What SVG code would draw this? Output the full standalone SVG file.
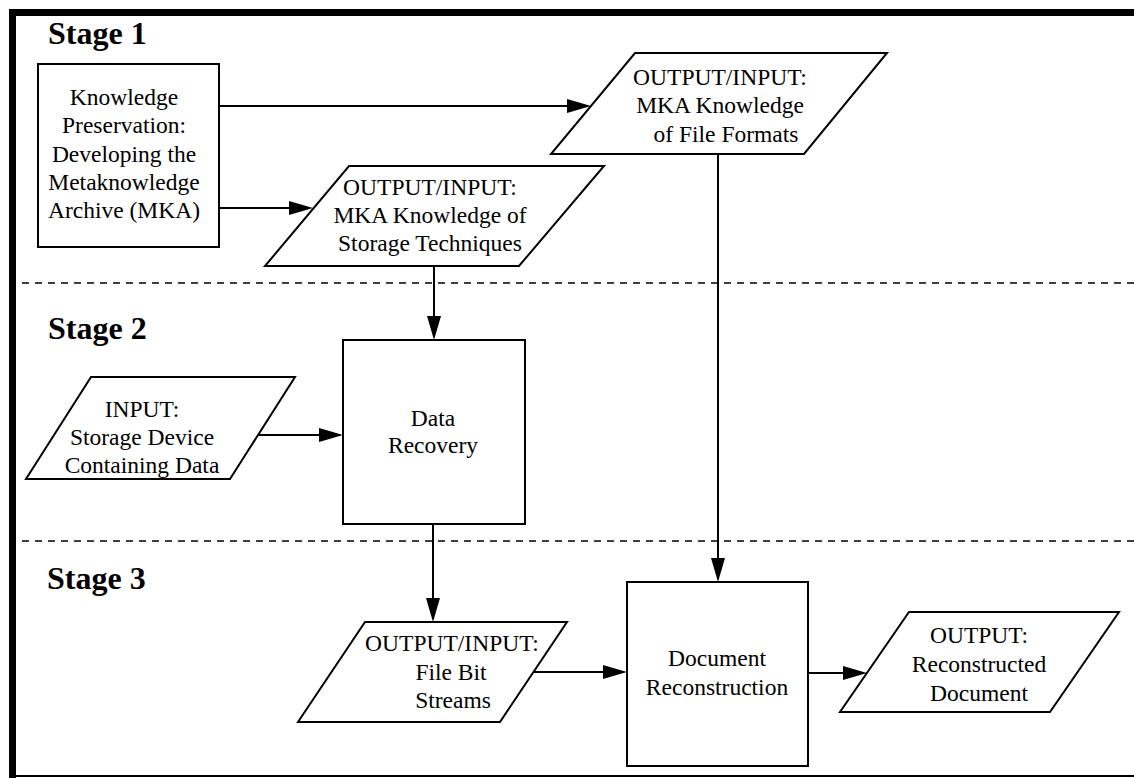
<svg xmlns="http://www.w3.org/2000/svg" width="1134" height="778" viewBox="0 0 1134 778">
  <style>
    .frame { fill: #000; }
    .rule { stroke: #000; stroke-width: 1.6; stroke-dasharray: 7 6; fill: none; }
    .box { fill: #fff; stroke: #000; stroke-width: 2; }
    .lbl { font-family: "Liberation Serif", "Times New Roman", serif; font-size: 23.5px; fill: #000; text-anchor: middle; }
    .stage { font-family: "Liberation Serif", "Times New Roman", serif; font-size: 32px; font-weight: bold; fill: #000; }
    .edge { stroke: #000; stroke-width: 2; fill: none; marker-end: url(#arrow); }
  </style>
  <defs>
    <marker id="arrow" markerUnits="userSpaceOnUse" markerWidth="26" markerHeight="16" refX="20" refY="7" orient="auto">
      <path d="M0,0 L24,7 L0,14 Z" fill="#000"/>
    </marker>
  </defs>

  <rect width="1134" height="778" fill="#fff"/>

  <!-- page frame -->
  <g id="frame">
    <rect class="frame" x="9" y="9" width="1125" height="7"/>
    <rect class="frame" x="9" y="9" width="7" height="769"/>
    <line x1="9" y1="776" x2="1134" y2="776" stroke="#000" stroke-width="2"/>
  </g>

  <!-- stage separators and titles -->
  <g id="stages">
    <line class="rule" x1="22" y1="283" x2="1134" y2="283"/>
    <line class="rule" x1="22" y1="541" x2="1134" y2="541"/>
    <text class="stage" x="48" y="44">Stage 1</text>
    <text class="stage" x="48" y="339">Stage 2</text>
    <text class="stage" x="47" y="589">Stage 3</text>
  </g>

  <!-- connectors -->
  <g id="connectors">
    <path class="edge" d="M219,106 H587"/>
    <path class="edge" d="M219,208 H309"/>
    <path class="edge" d="M434,266 V336"/>
    <path class="edge" d="M258,435 H339"/>
    <path class="edge" d="M433,524 V618"/>
    <path class="edge" d="M718,154 V578"/>
    <path class="edge" d="M534,672 H623"/>
    <path class="edge" d="M808,673 H863"/>
  </g>

  <g id="knowledge-preservation">
    <rect class="box" x="38" y="64" width="181" height="183"/>
    <text class="lbl" x="124" y="105">Knowledge</text>
    <text class="lbl" x="124" y="133">Preservation:</text>
    <text class="lbl" x="124" y="162">Developing the</text>
    <text class="lbl" x="124" y="190">Metaknowledge</text>
    <text class="lbl" x="124" y="218">Archive (MKA)</text>
  </g>

  <g id="file-formats">
    <polygon class="box" points="635,53 887,53 804,154 551,154"/>
    <text class="lbl" x="720" y="85">OUTPUT/INPUT:</text>
    <text class="lbl" x="720" y="113">MKA Knowledge</text>
    <text class="lbl" x="726" y="142">of File Formats</text>
  </g>

  <g id="storage-techniques">
    <polygon class="box" points="349,166 604,166 519,266 265,266"/>
    <text class="lbl" x="430" y="195">OUTPUT/INPUT:</text>
    <text class="lbl" x="430" y="223">MKA Knowledge of</text>
    <text class="lbl" x="430" y="251">Storage Techniques</text>
  </g>

  <g id="storage-device">
    <polygon class="box" points="91,377 295,377 230,479 26,479"/>
    <text class="lbl" x="142" y="417">INPUT:</text>
    <text class="lbl" x="142" y="445">Storage Device</text>
    <text class="lbl" x="142" y="473">Containing Data</text>
  </g>

  <g id="data-recovery">
    <rect class="box" x="343" y="340" width="182" height="184"/>
    <text class="lbl" x="433" y="426">Data</text>
    <text class="lbl" x="433" y="453">Recovery</text>
  </g>

  <g id="file-bit-streams">
    <polygon class="box" points="365,622 567,622 500,722 298,722"/>
    <text class="lbl" x="452" y="651">OUTPUT/INPUT:</text>
    <text class="lbl" x="451" y="680">File Bit</text>
    <text class="lbl" x="453" y="708">Streams</text>
  </g>

  <g id="document-reconstruction">
    <rect class="box" x="627" y="582" width="181" height="184"/>
    <text class="lbl" x="717" y="666">Document</text>
    <text class="lbl" x="717" y="695">Reconstruction</text>
  </g>

  <g id="reconstructed-document">
    <polygon class="box" points="909,612 1119,612 1050,712 840,712"/>
    <text class="lbl" x="979" y="643">OUTPUT:</text>
    <text class="lbl" x="979" y="672">Reconstructed</text>
    <text class="lbl" x="979" y="701">Document</text>
  </g>
</svg>
